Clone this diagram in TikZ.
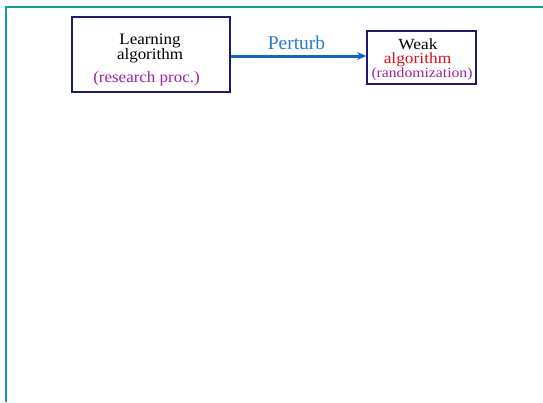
\documentclass[tikz,border=0pt]{standalone}
\usepackage{fontspec}
\setmainfont{Liberation Serif}
\newfontfamily\widefont[FakeStretch=1.06]{Liberation Serif}
\newfontfamily\widerfont[FakeStretch=1.12]{Liberation Serif}
\usetikzlibrary{arrows.meta}
\definecolor{framecol}{HTML}{10A0A0}
\definecolor{boxcol}{HTML}{1A1A70}
\definecolor{notecol}{HTML}{A020A0}
\definecolor{redcol}{HTML}{D8101C}
\definecolor{arrowcol}{HTML}{1466C4}
\definecolor{labelcol}{HTML}{2A7AD0}
\tikzset{
  algbox/.style={draw=boxcol, line width=1.6pt, inner sep=0pt},
  txt/.style={inner sep=0pt, anchor=base},
  flow/.style={draw=arrowcol, line width=3pt, -{Stealth[length=9pt,width=8pt,inset=3pt]}}
}
\begin{document}
\begin{tikzpicture}[x=1pt,y=-1pt]
\useasboundingbox (0,0) rectangle (543,402);
% partial outer frame
\draw[framecol, line width=2pt] (5.5,402) -- (5.5,6.5) -- (543,6.5);
% left box
\node[algbox, minimum width=158pt, minimum height=75pt] (learn) at (151,54.5) {};
\node[txt, font=\widefont\fontsize{16}{18}\selectfont] (l1) at (150,44.5) {Learning};
\node[txt, font=\widefont\fontsize{16}{18}\selectfont] (l2) at (150,59.5) {algorithm};
\node[txt, font=\widefont\fontsize{16}{18}\selectfont, text=notecol] (l3) at (146.5,82.5) {(research proc.)};
% right box
\node[algbox, minimum width=109pt, minimum height=53pt] (weak) at (421.5,57.5) {};
\node[txt, font=\widerfont\fontsize{15.5}{17}\selectfont] (w1) at (418,49.5) {Weak};
\node[txt, font=\widerfont\fontsize{15.5}{17}\selectfont, text=redcol] (w2) at (417.5,63.5) {algorithm};
\node[txt, font=\widerfont\fontsize{14}{16}\selectfont, text=notecol] (w3) at (422,77) {(randomization)};
% connector
\draw[flow] (learn.east |- 0,56) -- (weak.west |- 0,56);
\node[txt, font=\fontsize{19.5}{22}\selectfont, text=labelcol] (pert) at (296.5,49.5) {Perturb};
\end{tikzpicture}
\end{document}
